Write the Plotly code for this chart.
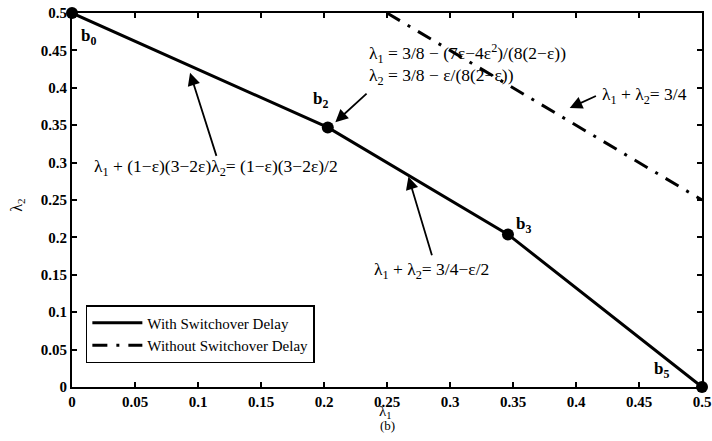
import plotly.graph_objects as go

# Data
lam1_with = [0.0, 0.203, 0.346, 0.5]
lam2_with = [0.5, 0.347, 0.204, 0.0]
point_labels = ["b<sub>0</sub>", "b<sub>2</sub>", "b<sub>3</sub>", "b<sub>5</sub>"]
lam1_without = [0.25, 0.5]
lam2_without = [0.5, 0.25]
tick_vals = [0, 0.05, 0.1, 0.15, 0.2, 0.25, 0.3, 0.35, 0.4, 0.45, 0.5]
tick_text = ["0", "0.05", "0.1", "0.15", "0.2", "0.25", "0.3", "0.35", "0.4", "0.45", "0.5"]

FONT = "Liberation Serif"

fig = go.Figure()
fig.add_trace(go.Scatter(
    x=lam1_with, y=lam2_with, mode="lines",
    line=dict(color="black", width=3),
    name="With Switchover Delay"))
fig.add_trace(go.Scatter(
    x=lam1_without, y=lam2_without, mode="lines",
    line=dict(color="black", width=3, dash="15px,9px,3px,9px"),
    name="Without Switchover Delay"))
fig.add_trace(go.Scatter(
    x=lam1_with, y=lam2_with, mode="markers",
    marker=dict(color="black", size=12),
    cliponaxis=False, showlegend=False, hoverinfo="skip"))

afont = dict(family=FONT, size=17.5, color="black")
ann = []
# point labels
label_pos = [(0.0127, 0.468), (0.197, 0.384), (0.358, 0.217), (0.468, 0.023)]
for (lx, ly), t in zip(label_pos, point_labels):
    ann.append(dict(x=lx, y=ly, text="<b>" + t + "</b>", showarrow=False,
                    font=dict(family=FONT, size=17, color="black"),
                    xanchor="center", yanchor="middle"))
# formula texts
ann.append(dict(x=0.114, y=0.293,
                text="λ<sub>1</sub> + (1−ε)(3−2ε)λ<sub>2</sub>= (1−ε)(3−2ε)/2",
                showarrow=False, font=afont, xanchor="center", yanchor="middle"))
ann.append(dict(x=0.234, y=0.446,
                text="λ<sub>1</sub> = 3/8 − (7ε−4ε<sup>2</sup>)/(8(2−ε))",
                showarrow=False, font=afont, xanchor="left", yanchor="middle"))
ann.append(dict(x=0.234, y=0.415,
                text="λ<sub>2</sub> = 3/8 − ε/(8(2−ε))",
                showarrow=False, font=afont, xanchor="left", yanchor="middle"))
ann.append(dict(x=0.419, y=0.39,
                text="λ<sub>1</sub> + λ<sub>2</sub>= 3/4",
                showarrow=False, font=afont, xanchor="left", yanchor="middle"))
ann.append(dict(x=0.285, y=0.156,
                text="λ<sub>1</sub> + λ<sub>2</sub>= 3/4−ε/2",
                showarrow=False, font=afont, xanchor="center", yanchor="middle"))
# arrows (tail -> head)
arrows = [((0.115, 0.307), (0.0937, 0.42)),
          ((0.235, 0.394), (0.209, 0.354)),
          ((0.417, 0.390), (0.395, 0.373)),
          ((0.286, 0.174), (0.267, 0.281))]
for (tx, ty), (hx, hy) in arrows:
    ann.append(dict(x=hx, y=hy, ax=tx, ay=ty, xref="x", yref="y",
                    axref="x", ayref="y", text="", showarrow=True,
                    arrowhead=2, arrowsize=1.4, arrowwidth=1.8,
                    arrowcolor="black"))
for a in ann:
    a.setdefault("xref", "x")
    a.setdefault("yref", "y")
# axis titles and caption
ann.append(dict(x=0.498, y=-0.066, xref="paper", yref="paper",
                text="λ<sub>1</sub>", showarrow=False,
                font=dict(family=FONT, size=15, color="black"),
                xanchor="center", yanchor="middle"))
ann.append(dict(x=0.5, y=-0.102, xref="paper", yref="paper", text="(b)",
                showarrow=False, font=dict(family=FONT, size=13, color="black"),
                xanchor="center", yanchor="middle"))
ann.append(dict(x=-0.086, y=0.487, xref="paper", yref="paper",
                text="λ<sub>2</sub>", showarrow=False, textangle=-90,
                font=dict(family=FONT, size=16, color="black"),
                xanchor="center", yanchor="middle"))

axis_common = dict(
    range=[0, 0.5], tickvals=tick_vals, ticktext=tick_text,
    ticks="inside", ticklen=5, tickwidth=1.5, tickcolor="black",
    showline=True, linecolor="black", linewidth=2, mirror="ticks",
    showgrid=False, zeroline=False, automargin=False,
    tickfont=dict(family=FONT, size=15, color="black", weight="bold"),
)

fig.update_layout(
    width=712, height=441,
    margin=dict(l=72, r=10, t=13, b=54, autoexpand=False),
    paper_bgcolor="white", plot_bgcolor="white",
    font=dict(family=FONT, color="black"),
    xaxis=dict(axis_common),
    yaxis=dict(axis_common),
    legend=dict(x=0.022, y=0.219, xanchor="left", yanchor="top",
                bgcolor="white", bordercolor="black", borderwidth=1.5,
                font=dict(family=FONT, size=15, color="black"),
                itemwidth=50, tracegroupgap=0),
    annotations=ann,
    showlegend=True,
)

fig.write_html("out.html",
               config={"displayModeBar": False},
               post_script="document.body.style.margin='0';"
                           "document.body.style.overflow='hidden';")
